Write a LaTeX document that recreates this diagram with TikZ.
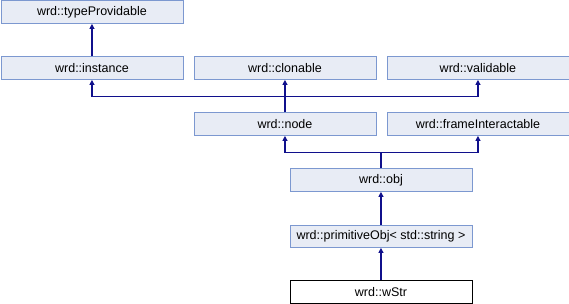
\documentclass[tikz,border=0pt]{standalone}
\usepackage{fontspec}
\setmainfont{Liberation Sans}
\usetikzlibrary{arrows.meta}
\definecolor{boxfill}{RGB}{232,236,245}
\definecolor{boxline}{RGB}{124,152,208}
\definecolor{edgecol}{RGB}{16,16,140}
\tikzset{
  cls/.style={draw=boxline, fill=boxfill, line width=0.9pt, anchor=north west,
    minimum width=182pt, minimum height=22.5pt, inner sep=0pt,
    font=\fontsize{12.5}{14}\selectfont},
  current/.style={cls, draw=black, fill=white},
  edge/.style={draw=edgecol, line width=1.1pt,
    -{Triangle[length=5pt,width=5pt]}},
}
\begin{document}
\begin{tikzpicture}[x=1pt,y=-1pt]
\useasboundingbox (0,0) rectangle (569,304);
\node[cls] (typeProvidable) at (0.5,0.5) {wrd::typeProvidable};
\node[cls] (instance) at (0.5,56.5) {wrd::instance};
\node[cls] (clonable) at (193.5,56.5) {wrd::clonable};
\node[cls] (validable) at (386.5,56.5) {wrd::validable};
\node[cls] (node) at (193.5,112.5) {wrd::node};
\node[cls] (frameInteractable) at (386.5,112.5) {wrd::frameInteractable};
\node[cls] (obj) at (289.5,168.5) {wrd::obj};
\node[cls] (primitiveObj) at (289.5,224.5) {wrd::primitiveObj< std::string >};
\node[current] (wStr) at (289.5,280.3) {wrd::wStr};

\draw[edge] (instance.north) -- (typeProvidable.south);

\coordinate (j1) at (node.north |- 0,96.5);
\draw[edge] (node.north) -- (clonable.south);
\draw[edge] (j1) -| (instance.south);
\draw[edge] (j1) -| (validable.south);

\coordinate (j2) at (obj.north |- 0,152.5);
\draw[edge] (obj.north) -- (j2) -| (node.south);
\draw[edge] (j2) -| (frameInteractable.south);

\draw[edge] (primitiveObj.north) -- (obj.south);
\draw[edge] (wStr.north) -- (primitiveObj.south);
\end{tikzpicture}
\end{document}
